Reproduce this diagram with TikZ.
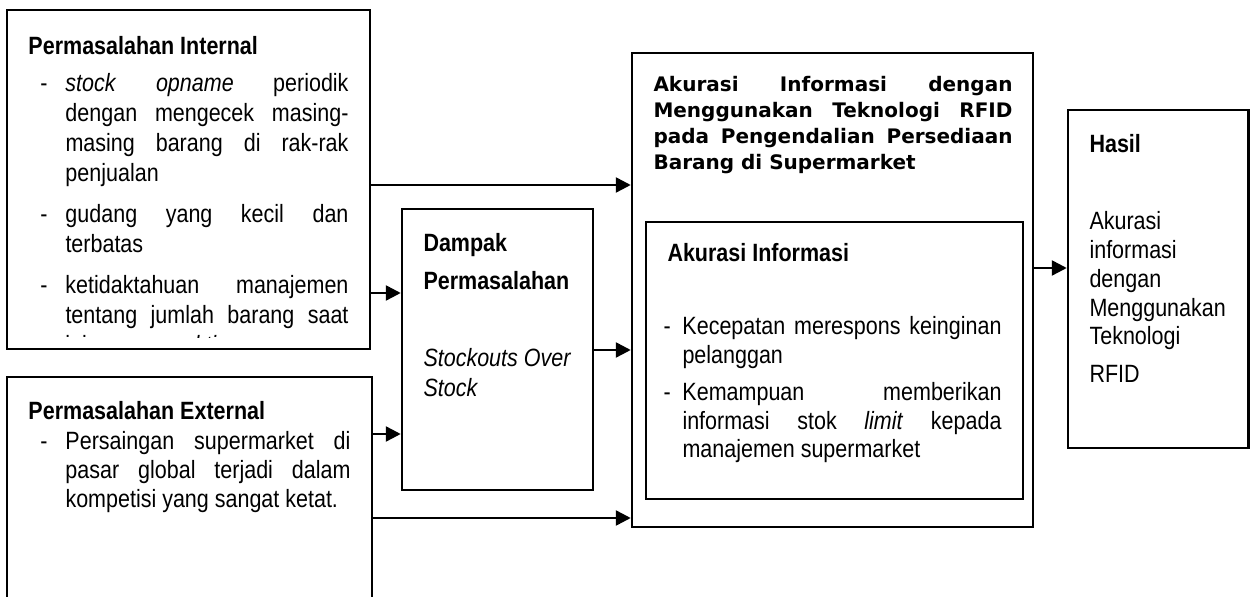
\documentclass[tikz,border=0pt]{standalone}
\usepackage{fontspec}
\setmainfont{Liberation Sans}[FakeStretch=0.86]
\newfontfamily\vfont{DejaVu Sans}
\usetikzlibrary{arrows.meta,fit}
% justified line, ragged last line, first line with dash
\newcommand\myJ[2]{\hbox to \hsize{\hskip#1\relax#2}}
\newcommand\myL[2]{\hbox to \hsize{\hskip#1\relax#2\hfil}}
\newcommand\myD[2]{\hbox to \hsize{\makebox[#1][l]{-}#2}}
\begin{document}
\begin{tikzpicture}[x=0.4pt,y=-0.4pt,
  box/.style={draw, line width=1pt, inner sep=0pt, rectangle},
  arr/.style={line width=1pt, -{Triangle[length=6pt,width=6pt]}},
  txt/.style={inner sep=0pt, anchor=base west, font=\fontsize{10}{12}\selectfont}]
\useasboundingbox (0,0) rectangle (1250,597);
% boxes
\node[box, fit={(7,10) (370,349)}] (b1) {};
\node[box, fit={(7,377) (372,612)}] (b2) {};
\node[box, fit={(402,209) (593,490)}] (dp) {};
\node[box, fit={(632,53) (1033,527)}] (big) {};
\node[box, fit={(646,222) (1023,499)}] (inner) {};
\node[box, fit={(1068,110) (1248.5,448)}] (hs) {};
% heights of connectors
\coordinate (h185) at (0,185);
\coordinate (h293) at (0,293);
\coordinate (h434) at (0,434);
\coordinate (h518) at (0,518);
\coordinate (h350) at (0,350);
\coordinate (h268) at (0,268);
\draw[arr] (b1.east |- h185) -- (big.west |- h185);
\draw[arr] (b1.east |- h293) -- (dp.west |- h293);
\draw[arr] (b2.east |- h434) -- (dp.west |- h434);
\draw[arr] (b2.east |- h518) -- (big.west |- h518);
\draw[arr] (dp.east |- h350) -- (big.west |- h350);
\draw[arr] (big.east |- h268) -- (hs.west |- h268);
% texts: Permasalahan Internal
\node[txt] (t1) at (28,55) {\bfseries Permasalahan Internal};
\begin{scope}
\clip (0,0) rectangle (1250,338);
\node[txt] (t1b) at (40,92) {\parbox[t]{123.2pt}{\fontsize{10}{12}\selectfont
\myD{10pt}{\textit{stock} \textit{opname} periodik}
\myJ{10pt}{dengan mengecek masing-}
\myJ{10pt}{masing barang di rak-rak}
\myL{10pt}{penjualan}
\vskip4.4pt
\myD{10pt}{gudang yang kecil dan}
\myL{10pt}{terbatas}
\vskip4.4pt
\myD{10pt}{ketidaktahuan manajemen}
\myJ{10pt}{tentang jumlah barang saat}
\myL{10pt}{ini secara \textit{real time}}}};
\end{scope}
% Permasalahan External
\node[txt] (t2) at (28,420) {\bfseries Permasalahan External};
\node[txt] (t2b) at (40,450) {\parbox[t]{124pt}{\fontsize{10}{11.4}\selectfont
\myD{10pt}{Persaingan supermarket di}
\myJ{10pt}{pasar global terjadi dalam}
\myL{10pt}{kompetisi yang sangat ketat.}}};
% Dampak
\node[txt] (dh) at (423,252) {\parbox[t]{68pt}{\fontsize{10}{15.2}\selectfont\bfseries
\myL{0pt}{Dampak}\myL{0pt}{Permasalahan}}};
\node[txt] (di) at (423,367) {\parbox[t]{68pt}{\fontsize{10}{12}\selectfont\itshape
\myL{0pt}{Stockouts Over}\myL{0pt}{Stock}}};
% big box heading
\node[txt] (bh) at (653,92) {\parbox[t]{143.6pt}{\vfont\bfseries\fontsize{8}{10.3}\selectfont
\myJ{0pt}{Akurasi Informasi dengan}
\myJ{0pt}{Menggunakan Teknologi RFID}
\myJ{0pt}{pada Pengendalian Persediaan}
\myL{0pt}{Barang di Supermarket}}};
% inner box
\node[txt] (ih) at (667,262) {\bfseries Akurasi Informasi};
\node[txt] (ib) at (663,335) {\parbox[t]{135.2pt}{\fontsize{10}{11.4}\selectfont
\myD{7.6pt}{Kecepatan merespons keinginan}
\myL{7.6pt}{pelanggan}
\vskip3.4pt
\myD{7.6pt}{Kemampuan memberikan}
\myJ{7.6pt}{informasi stok \textit{limit} kepada}
\myL{7.6pt}{manajemen supermarket}}};
% Hasil
\node[txt] (hh) at (1089,153) {\bfseries Hasil};
\node[txt] (hb) at (1089,230) {\parbox[t]{64pt}{\fontsize{10}{11.5}\selectfont
\myL{0pt}{Akurasi}\myL{0pt}{informasi}\myL{0pt}{dengan}\myL{0pt}{Menggunakan}\myL{0pt}{Teknologi}\vskip3.7pt\myL{0pt}{RFID}}};
\end{tikzpicture}
\end{document}
